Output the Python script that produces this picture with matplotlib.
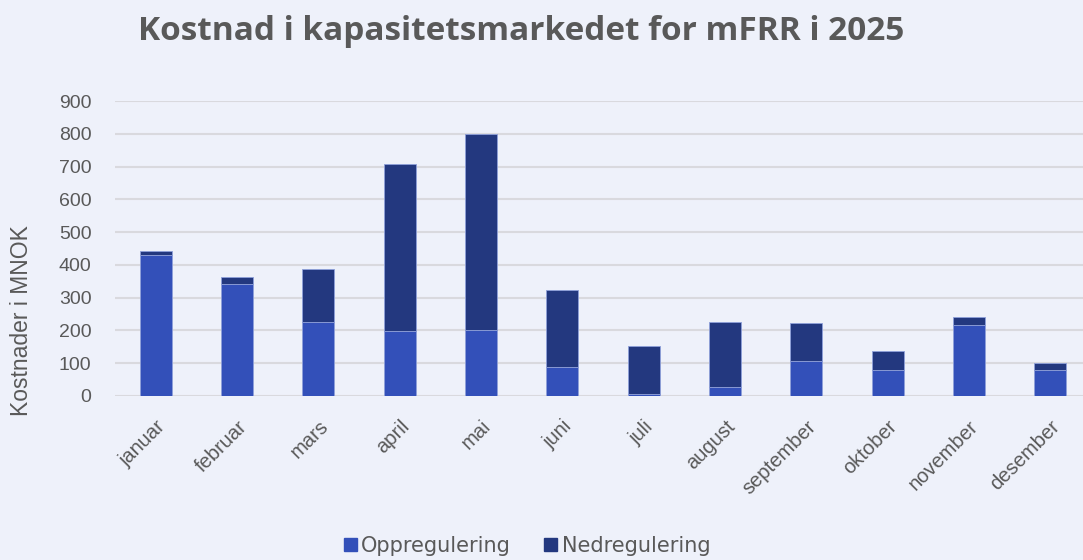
import numpy as np
import matplotlib.pyplot as plt
from matplotlib.patches import Patch

months = ['januar', 'februar', 'mars', 'april', 'mai', 'juni', 'juli',
          'august', 'september', 'oktober', 'november', 'desember']
# MNOK
opp = [429, 341, 225, 197, 201, 87, 5, 28, 107, 78, 216, 79]
ned = [12, 21, 161, 512, 597, 235, 147, 197, 116, 58, 24, 21]
yticks = [0, 100, 200, 300, 400, 500, 600, 700, 800, 900]

bg = '#EEF1FA'
c_opp = '#3350B9'
c_ned = '#23387F'
txt = '#595959'

fig = plt.figure(figsize=(10.83, 5.6), dpi=100, facecolor=bg)
ax = fig.add_axes([115/1083, 1-396/560, 976/1083, 295/560], facecolor=bg)

x = np.arange(len(months))
ax.bar(x, opp, width=0.39, color=c_opp, edgecolor='#8FA0DA', linewidth=0.6, zorder=3)
ax.bar(x, ned, width=0.39, bottom=opp, color=c_ned, edgecolor='#8FA0DA', linewidth=0.6, zorder=3)

ax.set_xlim(-0.5, len(months)-0.5)
ax.set_ylim(0, 900)
ax.set_yticks(yticks)
ax.set_yticklabels([str(v) for v in yticks], fontsize=14, color=txt, family='Liberation Sans')
ax.set_xticks(x)
ax.set_xticklabels(months, rotation=45, ha='right', rotation_mode='anchor',
                   fontsize=14.5, color=txt, family='Liberation Sans')
ax.tick_params(axis='both', length=0)
ax.tick_params(axis='y', pad=17)
ax.tick_params(axis='x', pad=15)
ax.grid(axis='y', color='#D9D9DE', linewidth=1.5, zorder=0)
for s in ax.spines.values():
    s.set_visible(False)

fig.text(22/1083, 1-321/560, 'Kostnader i MNOK', rotation=90, ha='center', va='center',
         fontsize=16.5, color=txt, family='Liberation Sans')
fig.text(521/1083, 1-31/560, 'Kostnad i kapasitetsmarkedet for mFRR i 2025',
         ha='center', va='center', fontsize=24, fontweight='bold', color=txt, family='Open Sans')

handles = [Patch(color=c_opp, label='Oppregulering'), Patch(color=c_ned, label='Nedregulering')]
fig.legend(handles=handles, loc='center', bbox_to_anchor=(527/1083, 1-546/560), ncol=2,
           frameon=False, handlelength=0.63, handleheight=0.63, handletextpad=0.2,
           columnspacing=1.6, labelcolor=txt, prop={'family': 'DejaVu Sans', 'size': 15},
           borderpad=0.2)

fig.savefig('out.png', dpi=100, facecolor=bg)
